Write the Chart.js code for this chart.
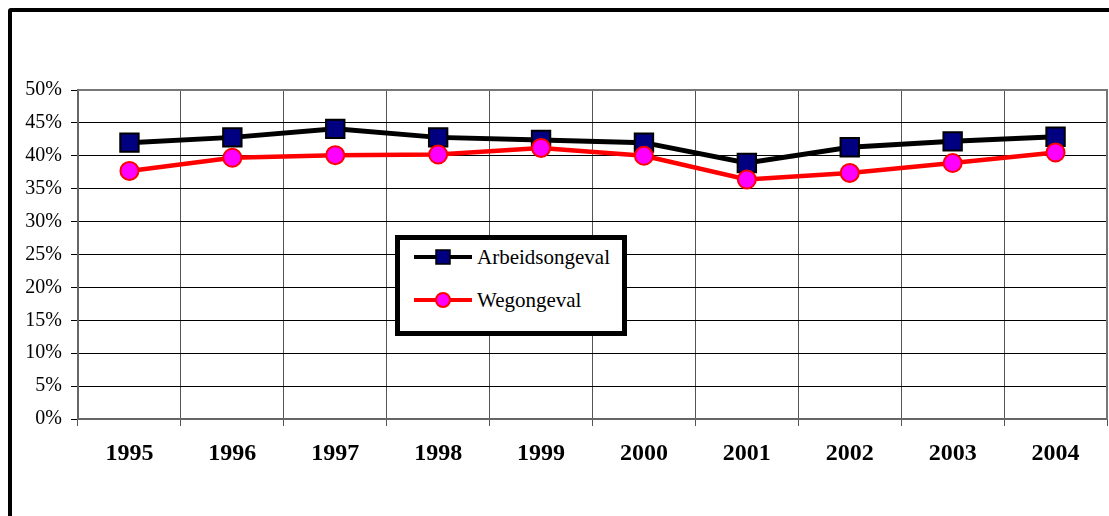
<!DOCTYPE html>
<html>
<head>
<meta charset="utf-8">
<script src="https://cdn.jsdelivr.net/npm/chart.js@4/dist/chart.umd.min.js"></script>
<style>
  html, body { margin: 0; padding: 0; background: #fff; overflow: hidden; }
  body { width: 1109px; height: 516px; position: relative; }
  #frame { position: absolute; left: 8px; top: 8px; width: 1120px; height: 540px;
           border: 4px solid #000; border-radius: 3px; box-sizing: border-box; }
  #wrap { position: absolute; left: 0; top: 0; width: 1109px; height: 516px; }
  #legend { position: absolute; left: 395px; top: 235px; width: 232px; height: 101px;
            border: 5px solid #000; box-sizing: border-box; background: #fff;
            font-family: "Liberation Serif", serif; font-size: 21px; color: #000; }
  #legend .row { position: absolute; left: 14px; height: 24px; display: flex; align-items: center; }
  #legend svg { margin-right: 5px; }
</style>
</head>
<body>
<div id="frame"></div>
<div id="wrap"><canvas id="chart" width="1109" height="516"></canvas></div>
<div id="legend"></div>
<script>
'use strict';

const YEARS = ['1995','1996','1997','1998','1999','2000','2001','2002','2003','2004'];
const ARBEID = [42.0, 42.8, 44.1, 42.8, 42.4, 42.0, 38.9, 41.3, 42.2, 42.9];
const WEG    = [37.7, 39.7, 40.1, 40.2, 41.2, 40.0, 36.4, 37.4, 38.9, 40.5];
const Y_TICKS = [0, 5, 10, 15, 20, 25, 30, 35, 40, 45, 50];

const SERIF = '"Liberation Serif", serif';

/* ── Chart ─────────────────────────────────────────── */
const chart = new Chart(document.getElementById('chart'), {
    type: 'line',
    data: {
        labels: YEARS,
        datasets: [{
            label: 'Arbeidsongeval',
            data: ARBEID,
            order: 1,
            borderColor: '#000000',
            borderWidth: 5,
            pointStyle: 'rect',
            pointRadius: 13,
            pointBackgroundColor: '#000080',
            pointBorderColor: '#000000',
            pointBorderWidth: 2,
            tension: 0,
        }, {
            label: 'Wegongeval',
            data: WEG,
            order: 0,
            borderColor: '#FF0000',
            borderWidth: 4.5,
            pointStyle: 'circle',
            pointRadius: 9,
            pointBackgroundColor: '#FF00FF',
            pointBorderColor: '#FF0000',
            pointBorderWidth: 2,
            tension: 0,
        }]
    },
    options: {
        responsive: false, animation: false,
        layout: { autoPadding: false, padding: { top: 90, right: 2, left: 0, bottom: 0 } },
        plugins: { legend: { display: false }, tooltip: { enabled: false } },
        scales: {
            x: {
                offset: true,
                grid: { offset: true, color: '#555', lineWidth: 1, tickLength: 7, tickColor: '#555' },
                border: { color: '#666', width: 2 },
                ticks: { color: '#000', padding: 13, maxRotation: 0,
                         font: { family: SERIF, size: 24, weight: 'bold' } },
                afterFit: s => { s.height = 97; }
            },
            y: {
                min: 0, max: 50,
                afterBuildTicks: s => { s.ticks = Y_TICKS.map(v => ({ value: v })); },
                grid: { color: '#000', lineWidth: 1, tickLength: 7, tickColor: '#000' },
                border: { color: '#666', width: 2 },
                ticks: { color: '#000', padding: 9, callback: v => v + '%',
                         font: { family: SERIF, size: 20 } },
                afterFit: s => { s.width = 78; }
            }
        }
    },
    plugins: [{
        id: 'plotBorder',
        afterDraw(c) {
            const a = c.chartArea, ctx = c.ctx;
            ctx.save();
            ctx.strokeStyle = '#777';
            ctx.lineWidth = 2;
            ctx.beginPath();
            ctx.moveTo(a.left, a.top);
            ctx.lineTo(a.right, a.top);
            ctx.lineTo(a.right, a.bottom);
            ctx.stroke();
            ctx.restore();
        }
    }]
});

/* ── Legend ────────────────────────────────────────── */
const legend = document.getElementById('legend');
chart.data.datasets.forEach((ds, i) => {
    const row = document.createElement('div');
    row.className = 'row';
    row.style.top = (i === 0 ? 5 : 48) + 'px';
    const marker = ds.pointStyle === 'rect'
        ? `<rect x="22" y="5" width="14" height="14" fill="${ds.pointBackgroundColor}" stroke="${ds.pointBorderColor}" stroke-width="1.5"/>`
        : `<circle cx="29" cy="12" r="7" fill="${ds.pointBackgroundColor}" stroke="${ds.pointBorderColor}" stroke-width="2"/>`;
    row.innerHTML = `<svg width="58" height="24"><line x1="0" y1="12" x2="58" y2="12" stroke="${ds.borderColor}" stroke-width="4"/>${marker}</svg><span>${ds.label}</span>`;
    legend.appendChild(row);
});
</script>
</body>
</html>
